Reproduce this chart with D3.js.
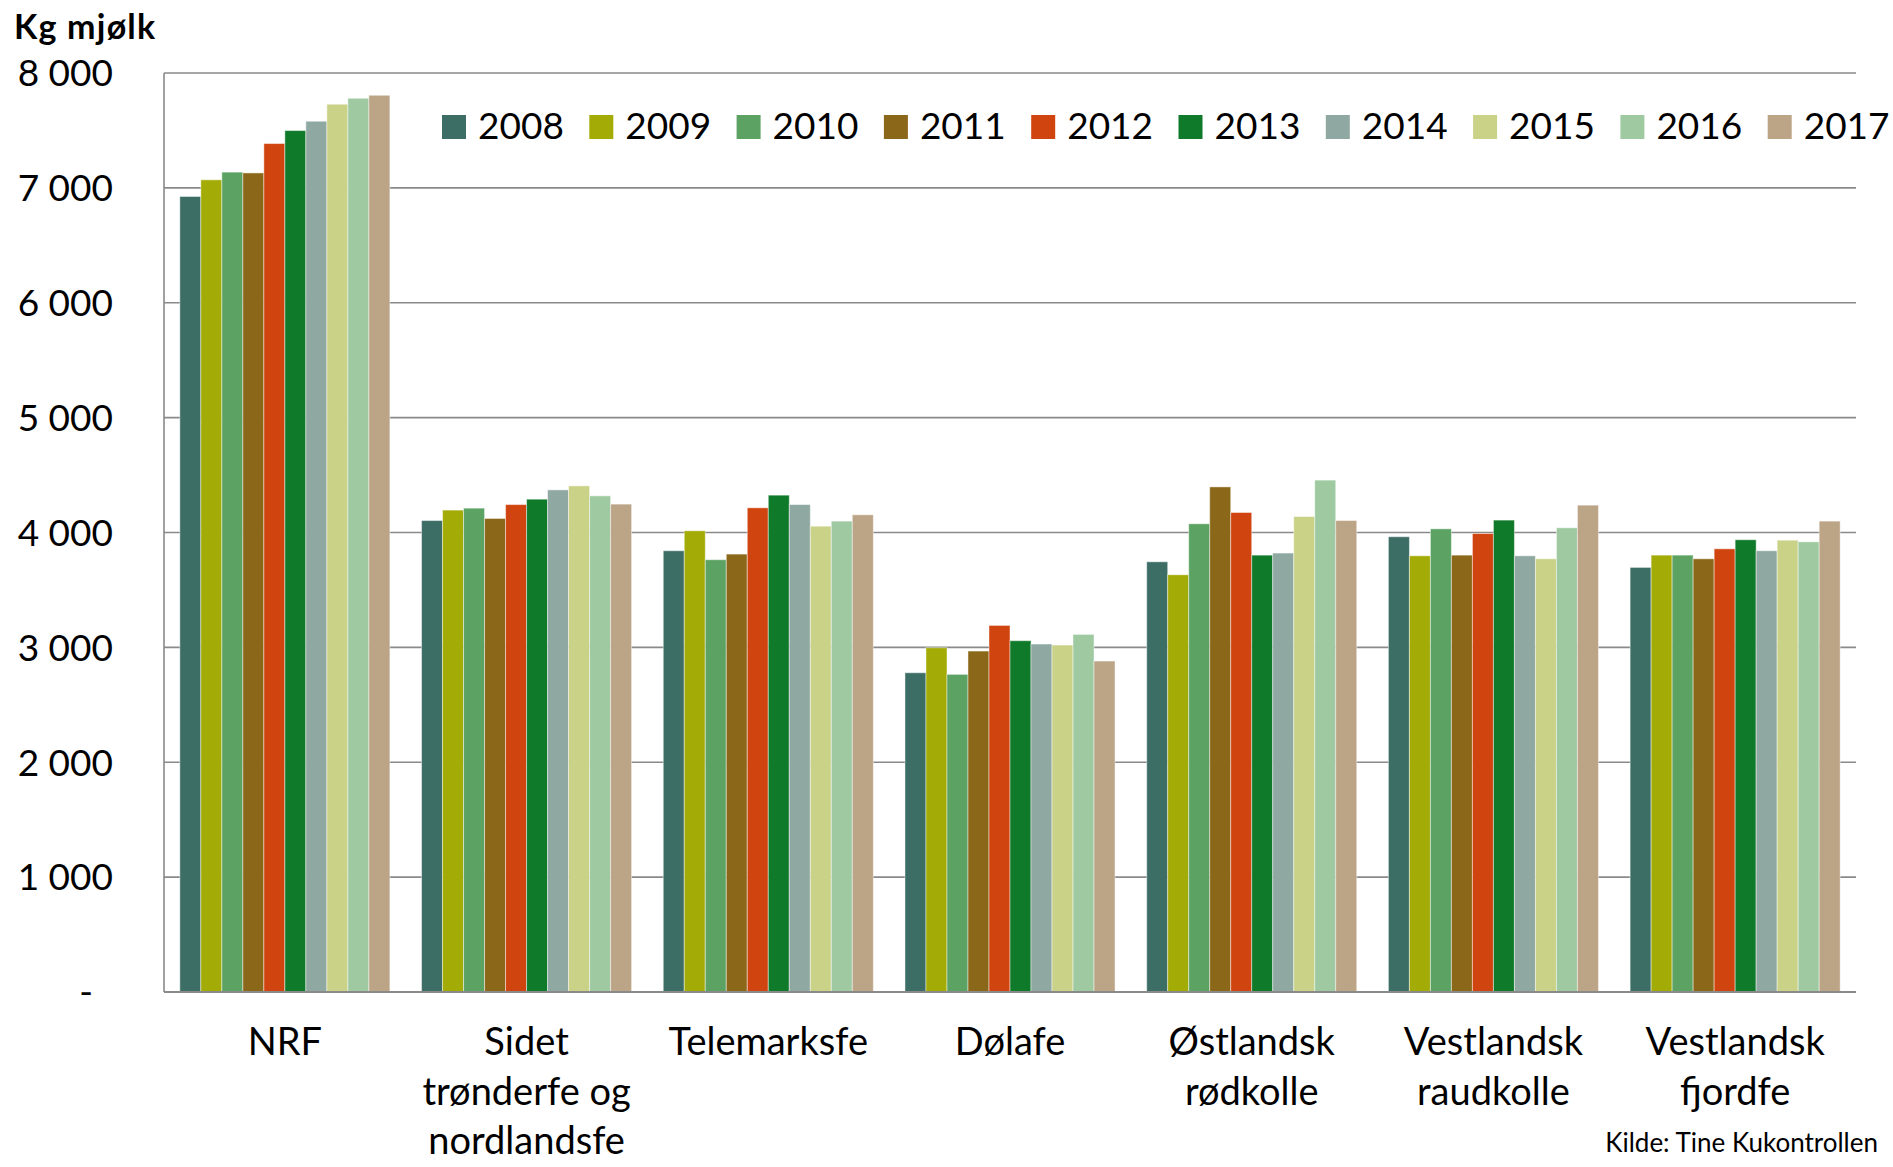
<!DOCTYPE html>
<html>
<head>
<meta charset="utf-8">
<script src="https://cdn.jsdelivr.net/npm/d3@7"></script>
<style>
  body { margin: 0; background: #fff; }
  text { font-family: Lato, "Open Sans", sans-serif; fill: #000; }
</style>
</head>
<body>
<script>
var categories = ["NRF", "Sidet trønderfe og nordlandsfe", "Telemarksfe", "Dølafe",
                  "Østlandsk rødkolle", "Vestlandsk raudkolle", "Vestlandsk fjordfe"];
var categoryLines = [["NRF"], ["Sidet", "trønderfe og", "nordlandsfe"], ["Telemarksfe"], ["Dølafe"],
                     ["Østlandsk", "rødkolle"], ["Vestlandsk", "raudkolle"], ["Vestlandsk", "fjordfe"]];
var years = ["2008", "2009", "2010", "2011", "2012", "2013", "2014", "2015", "2016", "2017"];
var yearColors = ["#3d6e66", "#a3ab07", "#5ca263", "#8b6819", "#d0450f",
                  "#107a2b", "#8fa8a1", "#cad287", "#9fcaa1", "#bca486"];

// one array per breed, values per year 2008..2017
var nrf       = [6925, 7070, 7137, 7130, 7386, 7499, 7580, 7728, 7780, 7806];
var sidet     = [4104, 4195, 4212, 4122, 4243, 4290, 4371, 4406, 4319, 4247];
var telemark  = [3841, 4015, 3763, 3812, 4215, 4325, 4243, 4055, 4099, 4154];
var dola      = [2779, 2997, 2765, 2968, 3191, 3058, 3029, 3020, 3113, 2881];
var ostlandsk = [3745, 3632, 4076, 4397, 4174, 3803, 3821, 4139, 4456, 4104];
var vestRaud  = [3963, 3797, 4032, 3803, 3991, 4108, 3797, 3771, 4041, 4238];
var vestFjord = [3696, 3803, 3803, 3771, 3858, 3937, 3841, 3933, 3919, 4099];
var seriesByCategory = [nrf, sidet, telemark, dola, ostlandsk, vestRaud, vestFjord];

var yTicks = [0, 1000, 2000, 3000, 4000, 5000, 6000, 7000, 8000];
var yTickLabels = ["-", "1 000", "2 000", "3 000", "4 000", "5 000", "6 000", "7 000", "8 000"];

var width = 1893, height = 1167;
var plot = { left: 164, right: 1856, top: 73, bottom: 992 };

var svg = d3.select("body").append("svg").attr("width", width).attr("height", height);

var x0 = d3.scaleBand().domain(categories).range([plot.left, plot.right])
           .paddingInner(0.131).paddingOuter(0.0655);
var x1 = d3.scaleBand().domain(years).range([0, x0.bandwidth()]);
var y = d3.scaleLinear().domain([0, 8000]).range([plot.bottom, plot.top]);

// gridlines
svg.append("g").selectAll("line").data(yTicks.slice(1)).enter().append("line")
   .attr("x1", plot.left).attr("x2", plot.right)
   .attr("y1", function(d) { return y(d); }).attr("y2", function(d) { return y(d); })
   .style("stroke", "#8a8a8a").style("stroke-width", 1.6);

// tick labels
svg.append("g").selectAll("text").data(yTicks).enter().append("text")
   .attr("x", function(d) { return d === 0 ? 93 : 113; })
   .attr("y", function(d) { return y(d); })
   .attr("dy", "0.36em")
   .attr("text-anchor", "end")
   .style("font-size", "37px")
   .text(function(d, i) { return yTickLabels[i]; });

// bars
var groups = svg.append("g").selectAll("g").data(categories).enter().append("g")
   .attr("transform", function(d) { return "translate(" + x0(d) + ",0)"; });

groups.selectAll("rect").data(function(d, i) {
        return seriesByCategory[i].map(function(v, j) { return { year: years[j], value: v, color: yearColors[j] }; });
    }).enter().append("rect")
   .attr("x", function(d) { return x1(d.year); })
   .attr("y", function(d) { return y(d.value); })
   .attr("width", x1.bandwidth())
   .attr("height", function(d) { return y(0) - y(d.value); })
   .style("fill", function(d) { return d.color; })
   .style("stroke", "#ffffff").style("stroke-opacity", 0.45).style("stroke-width", 1);

// axis lines
svg.append("line").attr("x1", plot.left).attr("x2", plot.left).attr("y1", plot.top).attr("y2", plot.bottom)
   .style("stroke", "#8a8a8a").style("stroke-width", 1.6);
svg.append("line").attr("x1", plot.left).attr("x2", plot.right).attr("y1", plot.bottom).attr("y2", plot.bottom)
   .style("stroke", "#8a8a8a").style("stroke-width", 2);

// category labels
categories.forEach(function(c, i) {
    var cx = x0(c) + x0.bandwidth() / 2;
    var t = svg.append("text").attr("text-anchor", "middle").style("font-size", "38px");
    categoryLines[i].forEach(function(line, k) {
        t.append("tspan").attr("x", cx).attr("y", 1055 + k * 49.5).text(line);
    });
});

// legend
var legendX = d3.scaleBand().domain(years).range([442, 442 + 147.3 * years.length]);
var legend = svg.append("g").selectAll("g").data(years).enter().append("g")
   .attr("transform", function(d) { return "translate(" + legendX(d) + ",0)"; });
legend.append("rect").attr("x", 0).attr("y", 115).attr("width", 24).attr("height", 24)
   .style("fill", function(d, i) { return yearColors[i]; });
legend.append("text").attr("x", 36).attr("y", 139).style("font-size", "37px")
   .text(function(d) { return d; });

// titles
svg.append("text").attr("x", 14).attr("y", 39).style("font-size", "34px").style("font-weight", "bold")
   .style("letter-spacing", "1.2px")
   .text("Kg mjølk");
svg.append("text").attr("x", 1878).attr("y", 1152).attr("text-anchor", "end").style("font-size", "26px")
   .text("Kilde: Tine Kukontrollen");
</script>
</body>
</html>
